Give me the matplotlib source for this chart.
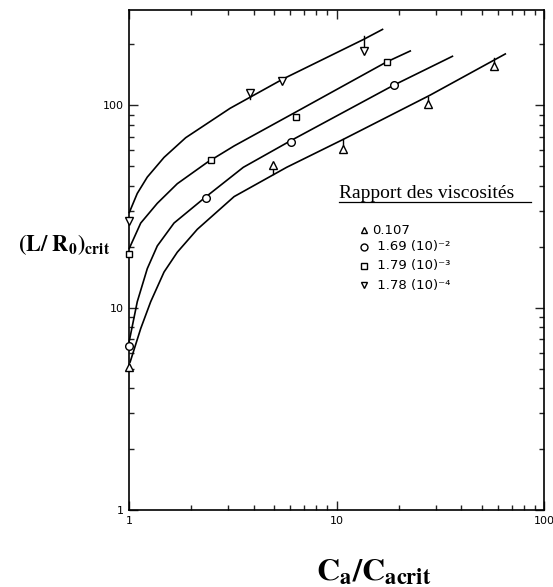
import matplotlib
matplotlib.use("Agg")
import matplotlib.pyplot as plt
from matplotlib.ticker import LogLocator, NullFormatter, FixedFormatter, FixedLocator

plt.rcParams['mathtext.fontset'] = 'stix'
plt.rcParams['font.family'] = 'DejaVu Sans'

# measured points (Ca/Cacrit, (L/R0)crit) for each viscosity ratio
tri_x = [1.0, 4.96, 10.8, 27.7, 57.4]
tri_y = [5.1, 50.8, 61.0, 101.6, 157.0]
circ_x = [1.0, 2.34, 6.02, 19.0]
circ_y = [6.5, 34.8, 65.9, 126.5]
sq_x = [1.0, 2.48, 6.38, 17.5]
sq_y = [18.4, 53.7, 87.1, 163.0]
dtri_x = [1.0, 3.83, 5.48, 13.5]
dtri_y = [26.8, 115.6, 131.9, 185.4]

# fitted curves
tri_cx = [1.01, 1.139, 1.272, 1.475, 1.709, 2.134, 3.21, 5.75, 10.78, 28.2, 65.6]
tri_cy = [5.34, 7.89, 10.7, 15.0, 18.8, 24.4, 35.4, 49.4, 67.9, 112.2, 180.3]
circ_cx = [1.0, 1.096, 1.225, 1.369, 1.648, 2.298, 3.555, 5.97, 18.78, 36.5]
circ_cy = [6.74, 10.7, 15.6, 20.2, 26.2, 34.7, 49.4, 66.6, 125.5, 175.5]
sq_cx = [1.0, 1.139, 1.369, 1.709, 2.384, 3.21, 6.43, 17.46, 22.86]
sq_cy = [19.5, 26.2, 32.8, 41.0, 52.3, 63.0, 93.2, 164.0, 186.4]
dtri_cx = [1.0, 1.096, 1.225, 1.475, 1.876, 3.07, 5.54, 13.47, 16.8]
dtri_cy = [29.3, 36.7, 44.2, 55.3, 69.2, 96.7, 135.2, 211.5, 238.4]

# short vertical stems joining some points to their curve
stem_x = [4.96, 10.8, 27.7, 57.4, 3.83, 13.5]
stem_y0 = [50.8, 61.0, 101.6, 157.0, 115.6, 185.4]
stem_y1 = [45.8, 67.9, 110.5, 171.0, 106.9, 219.0]

legend_labels = ['0.107', ' 1.69 (10)⁻²', ' 1.79 (10)⁻³', ' 1.78 (10)⁻⁴']

fig = plt.figure(figsize=(5.53, 5.87), dpi=100)
ax = fig.add_axes([129/553, 77/587, 415/553, 500/587])
ax.set_xscale('log')
ax.set_yscale('log')
ax.set_xlim(1, 100)
ax.set_ylim(1, 296)

for cx, cy in [(tri_cx, tri_cy), (circ_cx, circ_cy), (sq_cx, sq_cy), (dtri_cx, dtri_cy)]:
    ax.plot(cx, cy, color='black', lw=1.2, solid_capstyle='butt', clip_on=False)

for sx, a, b in zip(stem_x, stem_y0, stem_y1):
    ax.plot([sx, sx], [a, b], color='black', lw=1.0)

mk = dict(mfc='white', mec='black', mew=1.0, ls='none', clip_on=False, zorder=5)
ax.plot(tri_x, tri_y, marker='^', ms=6, **mk)
ax.plot(circ_x, circ_y, marker='o', ms=5.5, **mk)
ax.plot(sq_x, sq_y, marker='s', ms=5, **mk)
ax.plot(dtri_x, dtri_y, marker='v', ms=6, **mk)

# axis ticks: inside, on all four sides
for axis in (ax.xaxis, ax.yaxis):
    axis.set_major_locator(LogLocator(base=10))
    axis.set_minor_locator(LogLocator(base=10, subs=range(2, 10)))
    axis.set_minor_formatter(NullFormatter())
ax.xaxis.set_major_locator(FixedLocator([1, 10, 100]))
ax.xaxis.set_major_formatter(FixedFormatter(['1', '10', '100']))
ax.yaxis.set_major_locator(FixedLocator([1, 10, 100]))
ax.yaxis.set_major_formatter(FixedFormatter(['1', '10', '100']))
ax.tick_params(which='both', direction='in', top=True, right=True, width=1.0, color='#222222')
ax.tick_params(which='major', length=6.5, labelsize=8, pad=4)
ax.tick_params(which='minor', length=3.5)
for s in ax.spines.values():
    s.set_linewidth(1.2)

# legend drawn by hand
ax.text(0.506, 0.6246, 'Rapport des viscosités', transform=ax.transAxes,
        family='Liberation Serif', fontsize=14, va='baseline', ha='left')
ax.plot([0.506, 0.969], [0.6166, 0.6166], transform=ax.transAxes, color='black', lw=0.9)
rows = [0.56, 0.5266, 0.488, 0.45]
for m, s, y, lab in zip(['^', 'o', 's', 'v'], [5, 5, 4.5, 5], rows, legend_labels):
    ax.plot([0.566], [y], marker=m, ms=s, transform=ax.transAxes, **mk)
    ax.text(0.587, y, lab, transform=ax.transAxes, fontsize=9.5, va='center', ha='left')

fig.text(64/553, 1 - 245/587, r'$\mathbf{(L/\ R_0)_{crit}}$', fontsize=16,
         ha='center', va='center')
fig.text(374/553, 1 - 572/587, r'$\mathbf{C_a/C_{acrit}}$', fontsize=23,
         ha='center', va='center')

fig.savefig('out.png', dpi=100)
